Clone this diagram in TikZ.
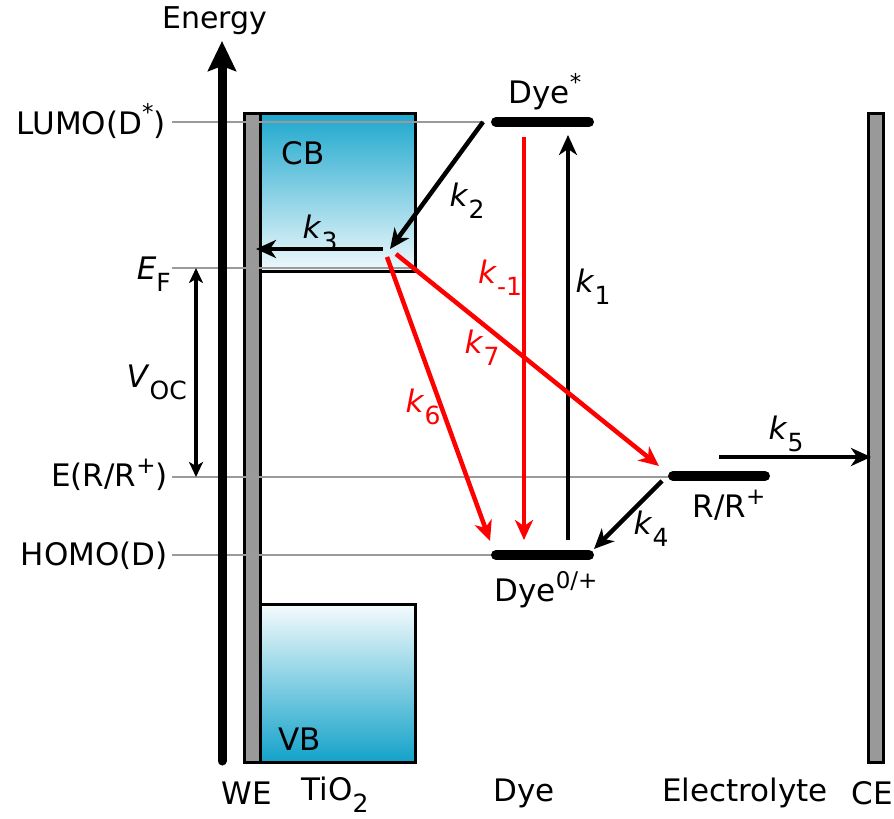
\documentclass[tikz,border=0pt]{standalone}
\usepackage{fontspec}
\setmainfont{DejaVu Sans}
\usetikzlibrary{arrows.meta}
\definecolor{cbtop}{HTML}{1DA7CD}
\definecolor{vbbot}{HTML}{13A2C9}
\definecolor{lvlgray}{HTML}{9A9A9A}
\definecolor{electrode}{HTML}{999999}
\definecolor{ratered}{HTML}{FF0000}
\newcommand{\kk}[1]{\textit{k}\raisebox{-0.38em}{\fontsize{25}{25}\selectfont #1}}
\newcommand{\sbs}[1]{\raisebox{-0.38em}{\fontsize{25}{25}\selectfont #1}}
\newcommand{\sps}[1]{\raisebox{0.42em}{\fontsize{23}{23}\selectfont #1}}
\tikzset{
  lbl/.style={inner sep=0pt, font=\fontsize{31}{36}\selectfont},
  guide/.style={draw=lvlgray, line width=2.5pt},
  level/.style={line width=10pt, line cap=round},
  rate/.style={line width=4.5pt, -{Stealth[length=20pt,width=18pt,inset=6pt]}},
  redrate/.style={rate, draw=ratered},
  electrodebar/.style={fill=electrode, draw=black, line width=3pt},
  bandbox/.style={draw=black, line width=3pt},
}
\begin{document}
\begin{tikzpicture}[x=1pt,y=-1pt]
\useasboundingbox (0,0) rectangle (894,819);
% bands
\shade[top color=cbtop, bottom color=white!93!cbtop] (260,113) rectangle (415,271);
\draw[bandbox] (260,113) rectangle (415,271);
\shade[top color=white!96!vbbot, bottom color=vbbot] (260,604) rectangle (415,762);
\draw[bandbox] (260,604) rectangle (415,762);
% electrodes
\draw[electrodebar] (244,113) rectangle (260,762);
\draw[electrodebar] (868,113) rectangle (883,762);
% guide lines
\coordinate (lumoL) at (172,122);
\coordinate (efL) at (172,268);
\coordinate (redoxL) at (172,477);
\coordinate (homoL) at (172,555);
\draw[guide] (lumoL) -- (484,122);
\draw[guide] (efL) -- (415,268);
\draw[guide] (redoxL) -- (670,477);
\draw[guide] (homoL) -- (493,555);
% energy axis
\coordinate (axB) at (222,761);
\coordinate (axT) at (222,41);
\draw[line width=9pt, line cap=round, -{Stealth[length=30pt,width=28pt,inset=5pt]}] (axB) -- (axT);
\node[lbl, font=\fontsize{30}{36}\selectfont] (energy) at (215,21) {Energy};
% levels
\draw[level] (496,122) -- (589,122);
\draw[level] (496,555) -- (589,555);
\draw[level] (673,476) -- (765,476);
% V_OC
\coordinate (vocT) at (196,268);
\coordinate (vocB) at (196,477);
\draw[line width=4pt, {Stealth[length=15pt,width=14pt,inset=4pt]}-{Stealth[length=15pt,width=14pt,inset=4pt]}] (vocT) -- (vocB);
% left labels
\node[lbl, anchor=east] (lumo) at (166,121) {LUMO(D\sps{*})};
\node[lbl, anchor=east] (ef) at (171,274) {\textit{E}\sbs{F}};
\node[lbl, anchor=east] (voc) at (187,382) {\textit{V}\sbs{OC}};
\node[lbl, anchor=east] (redox) at (168,475) {E(R/R\sps{+})};
\node[lbl, anchor=east] (homo) at (168,556) {HOMO(D)};
% band labels
\node[lbl] (cb) at (303,153) {CB};
\node[lbl] (vb) at (300,739) {VB};
% bottom labels
\node[lbl] (we) at (247,793) {WE};
\node[lbl] (tio) at (335,795) {TiO\sbs{2}};
\node[lbl] (dye) at (524,793) {Dye};
\node[lbl] (elec) at (745,793) {Electrolyte};
\node[lbl] (ce) at (872,793) {CE};
% level labels
\node[lbl] (dyestar) at (545,92) {Dye\sps{*}};
\node[lbl] (dyegs) at (546,590) {Dye\sps{0/+}};
\node[lbl] (rr) at (729,505) {R/R\sps{+}};
% arrow endpoints
\coordinate (k2s) at (483,122);
\coordinate (inj) at (390,249);
\coordinate (k3s) at (383,249);
\coordinate (k3e) at (256,249);
\coordinate (km1s) at (524,137);
\coordinate (km1e) at (524,540);
\coordinate (k1s) at (568,540);
\coordinate (k1e) at (568,135);
\coordinate (k7s) at (396,254);
\coordinate (k7e) at (659,466);
\coordinate (k6s) at (387,257);
\coordinate (k6e) at (490,541);
\coordinate (k4s) at (662,481);
\coordinate (k4e) at (594,549);
\coordinate (k5s) at (719,457);
\coordinate (k5e) at (871,457);
\draw[rate] (k2s) -- (inj);
\draw[rate] (k3s) -- (k3e);
\draw[redrate] (km1s) -- (km1e);
\draw[rate] (k1s) -- (k1e);
\draw[redrate] (k7s) -- (k7e);
\draw[redrate] (k6s) -- (k6e);
\draw[rate] (k4s) -- (k4e);
\draw[rate] (k5s) -- (k5e);
% rate labels
\node[lbl] (lk2) at (467,201) {\kk{2}};
\node[lbl] (lk3) at (320,233) {\kk{3}};
\node[lbl, text=ratered] (lkm1) at (500,278) {\kk{-1}};
\node[lbl] (lk1) at (593,287) {\kk{1}};
\node[lbl, text=ratered] (lk7) at (482,348) {\kk{7}};
\node[lbl, text=ratered] (lk6) at (423,407) {\kk{6}};
\node[lbl] (lk4) at (651,529) {\kk{4}};
\node[lbl] (lk5) at (786,434) {\kk{5}};
\end{tikzpicture}
\end{document}
